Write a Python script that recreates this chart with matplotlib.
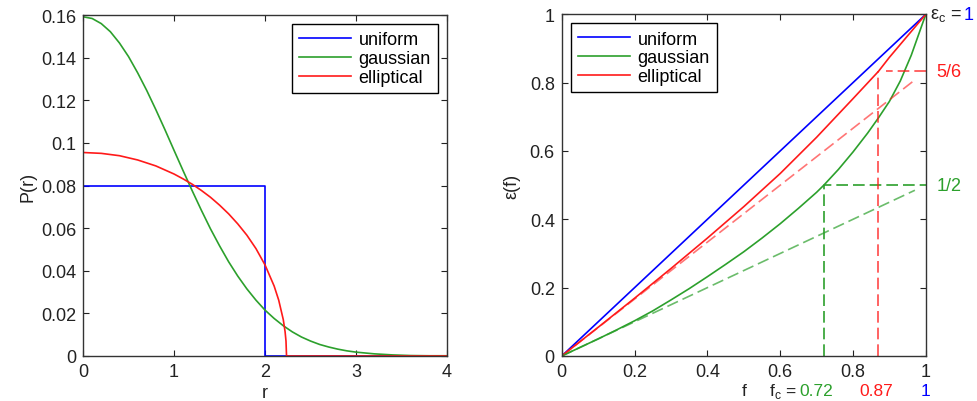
import matplotlib
matplotlib.use('Agg')
import matplotlib.pyplot as plt

plt.rcParams['font.family'] = ['Liberation Sans', 'DejaVu Sans']
plt.rcParams['font.size'] = 13
plt.rcParams['mathtext.fontset'] = 'custom'
plt.rcParams['mathtext.rm'] = 'Liberation Sans'

# ---- left panel: radial profiles P(r)
r_uniform = [0, 2, 2, 4]
p_uniform = [0.0796, 0.0796, 0, 0]

r_gauss = [0, 0.1, 0.2, 0.3, 0.4, 0.5, 0.6, 0.7, 0.8, 0.9, 1.0, 1.1, 1.2, 1.3, 1.4,
           1.5, 1.6, 1.7, 1.8, 1.9, 2.0, 2.1, 2.2, 2.3, 2.4, 2.5, 2.6, 2.7, 2.8, 2.9,
           3.0, 3.2, 3.4, 3.6, 3.8, 4.0]
p_gauss = [0.1592, 0.1584, 0.1560, 0.1522, 0.1469, 0.1405, 0.1329, 0.1246, 0.1156,
           0.1062, 0.0965, 0.0869, 0.0775, 0.0684, 0.0597, 0.0517, 0.0442, 0.0375,
           0.0315, 0.0262, 0.0215, 0.0176, 0.0142, 0.0113, 0.0089, 0.0070, 0.0054,
           0.0042, 0.0032, 0.0024, 0.0018, 0.0010, 0.0005, 0.0002, 0.0001, 0.0001]

r_ellip = [0, 0.2, 0.4, 0.6, 0.8, 1.0, 1.1, 1.2, 1.3, 1.4, 1.5, 1.6, 1.7, 1.8, 1.9,
           2.0, 2.1, 2.15, 2.2, 2.22, 2.23, 2.236, 4.0]
p_ellip = [0.0955, 0.0951, 0.0940, 0.0920, 0.0892, 0.0854, 0.0831, 0.0806, 0.0777,
           0.0745, 0.0708, 0.0667, 0.0620, 0.0567, 0.0504, 0.0427, 0.0328, 0.0262,
           0.0171, 0.0114, 0.0070, 0, 0]

# ---- right panel: eps(f)
f_uniform = [0, 1]
e_uniform = [0, 1]

f_gauss = [0, 0.05, 0.1, 0.15, 0.2, 0.25, 0.3, 0.35, 0.4, 0.45, 0.5, 0.55, 0.6, 0.65,
           0.7, 0.72, 0.76, 0.8, 0.84, 0.87, 0.9, 0.93, 0.96, 0.98, 1.0]
e_gauss = [0, 0.025, 0.05, 0.076, 0.103, 0.132, 0.164, 0.197, 0.232, 0.268, 0.305,
           0.345, 0.387, 0.432, 0.479, 0.5, 0.546, 0.597, 0.652, 0.697, 0.745, 0.805,
           0.88, 0.94, 1.0]

f_ellip = [0, 0.1, 0.2, 0.3, 0.4, 0.5, 0.6, 0.7, 0.8, 0.87, 0.9, 0.95, 1.0]
e_ellip = [0, 0.084, 0.169, 0.256, 0.345, 0.437, 0.534, 0.640, 0.753, 0.833, 0.874,
           0.937, 1.0]

# tangents at the origin and the core marks
f_tan = [0, 0.97]
e_tan_gauss = [0, 0.485]
e_tan_ellip = [0, 0.808]
fc_gauss, ec_gauss = 0.72, 0.5
fc_ellip, ec_ellip = 0.87, 5 / 6

blue = '#0000ff'
green = '#2ca02c'
red = '#ff1a1a'
dark = '#222222'


def style(ax):
    ax.tick_params(direction='in', top=True, right=True, length=4, width=0.8,
                   pad=5, labelsize=13, colors=dark)
    for s in ax.spines.values():
        s.set_linewidth(1.0)
        s.set_color('#333333')


fig = plt.figure(figsize=(9.77, 4.02), dpi=100)
ax1 = fig.add_axes([0.085, 0.112, 0.3726, 0.848])
ax2 = fig.add_axes([0.575, 0.112, 0.3726, 0.850])

ax1.plot(r_uniform, p_uniform, color=blue, lw=1.2, label='uniform')
ax1.plot(r_gauss, p_gauss, color=green, lw=1.2, label='gaussian')
ax1.plot(r_ellip, p_ellip, color=red, lw=1.2, label='elliptical')
ax1.set_xlim(0, 4)
ax1.set_ylim(0, 0.16)
ax1.set_xticks([0, 1, 2, 3, 4])
ax1.set_yticks([0, 0.02, 0.04, 0.06, 0.08, 0.1, 0.12, 0.14, 0.16])
ax1.set_yticklabels(['0', '0.02', '0.04', '0.06', '0.08', '0.1', '0.12', '0.14', '0.16'])
ax1.set_xlabel('r', labelpad=3, color=dark)
ax1.set_ylabel('P(r)', labelpad=3, color=dark)
style(ax1)
leg = ax1.legend(loc='upper right', fancybox=False, edgecolor='black', framealpha=1,
                 handlelength=2.9, handletextpad=0.4, borderaxespad=0.5,
                 labelspacing=0.1, fontsize=13)
leg.get_frame().set_linewidth(1.0)

ax2.plot(f_uniform, e_uniform, color=blue, lw=1.2, label='uniform')
ax2.plot(f_gauss, e_gauss, color=green, lw=1.2, label='gaussian')
ax2.plot(f_ellip, e_ellip, color=red, lw=1.2, label='elliptical')
ax2.plot(f_tan, e_tan_ellip, color=red, lw=1.2, alpha=0.6, dashes=(7, 3))
ax2.plot(f_tan, e_tan_gauss, color=green, lw=1.2, alpha=0.7, dashes=(7, 3))
ax2.plot([fc_gauss, fc_gauss, 1], [0, ec_gauss, ec_gauss], color=green, lw=1.2,
         dashes=(7, 3))
ax2.plot([fc_ellip, fc_ellip], [0, ec_ellip], color=red, lw=1.2, alpha=0.8, dashes=(7, 3))
ax2.plot([1, fc_ellip + 0.02], [ec_ellip, ec_ellip], color=red, lw=1.2, alpha=0.8,
         dashes=(7, 3))
ax2.set_xlim(0, 1)
ax2.set_ylim(0, 1)
ax2.set_xticks([0, 0.2, 0.4, 0.6, 0.8, 1])
ax2.set_xticklabels(['0', '0.2', '0.4', '0.6', '0.8', '1'])
ax2.set_yticks([0, 0.2, 0.4, 0.6, 0.8, 1])
ax2.set_yticklabels(['0', '0.2', '0.4', '0.6', '0.8', '1'])
ax2.set_ylabel('ε(f)', labelpad=7, color=dark)
style(ax2)
leg2 = ax2.legend(loc='upper left', fancybox=False, edgecolor='black', framealpha=1,
                  handlelength=2.9, handletextpad=0.4, borderaxespad=0.5,
                  labelspacing=0.1, fontsize=13)
leg2.get_frame().set_linewidth(1.0)

# annotations outside the right axes
xt = ax2.get_xaxis_transform()
yt = ax2.get_yaxis_transform()
yb = -0.114
fs = 12.5
ax2.text(0.5, yb, 'f', transform=xt, ha='center', va='baseline', color=dark, fontsize=fs)
ax2.text(0.645, yb, r'f$_\mathregular{c}$ =', transform=xt, ha='right', va='baseline',
         color=dark, fontsize=fs)
ax2.text(0.652, yb, '0.72', transform=xt, ha='left', va='baseline', color=green,
         fontsize=fs)
ax2.text(0.863, yb, '0.87', transform=xt, ha='center', va='baseline', color=red,
         fontsize=fs)
ax2.text(1.0, yb, '1', transform=xt, ha='center', va='baseline', color=blue, fontsize=fs)
ax2.text(1.012, 1.0, r'ε$_\mathregular{c}$ =', transform=yt, ha='left', va='center',
         color=dark)
ax2.text(1.105, 1.0, '1', transform=yt, ha='left', va='center', color=blue)
ax2.text(1.03, ec_ellip, '5/6', transform=yt, ha='left', va='center', color=red)
ax2.text(1.03, ec_gauss, '1/2', transform=yt, ha='left', va='center', color=green)

fig.savefig('out.png', dpi=100)
